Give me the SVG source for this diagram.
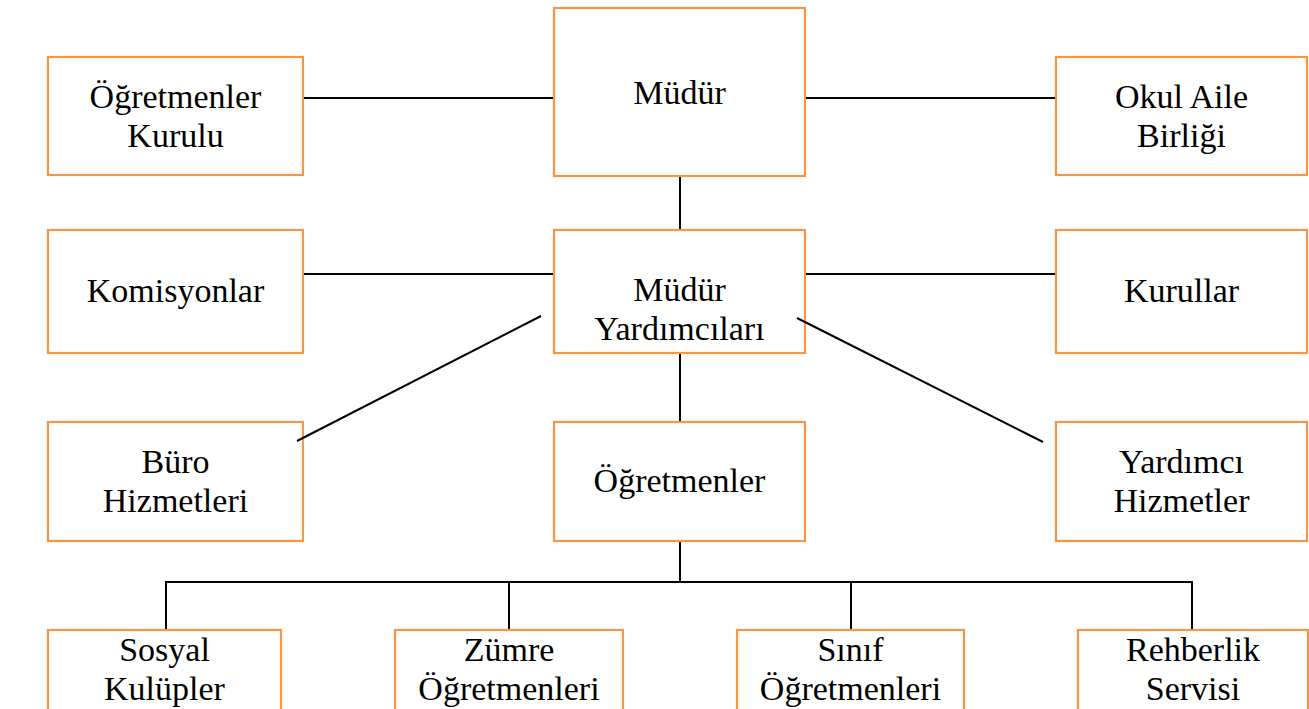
<svg xmlns="http://www.w3.org/2000/svg" width="1309" height="709" viewBox="0 0 1309 709">
<style>
.box{fill:#fff;stroke:#F79646;stroke-width:2.2}
.ln{stroke:#000;stroke-width:2;fill:none}
.t{font-family:'Liberation Serif','DejaVu Serif',serif;font-size:34px;fill:#000;text-anchor:middle}
</style>
<rect width="1309" height="709" fill="#fff"/>
<g id="ogretmenler-kurulu"><rect class="box" x="48" y="57" width="255" height="118"/><text class="t" x="175.5" y="108">Öğretmenler</text><text class="t" x="175.5" y="147">Kurulu</text></g>
<g id="mudur"><rect class="box" x="554" y="8" width="251" height="168"/><text class="t" x="679.5" y="104">Müdür</text></g>
<g id="okul-aile-birligi"><rect class="box" x="1056" y="57" width="251" height="118"/><text class="t" x="1181.5" y="108">Okul Aile</text><text class="t" x="1181.5" y="147">Birliği</text></g>
<g id="komisyonlar"><rect class="box" x="48" y="230" width="255" height="123"/><text class="t" x="175.5" y="302">Komisyonlar</text></g>
<g id="mudur-yardimcilari"><rect class="box" x="554" y="230" width="251" height="123"/><text class="t" x="679.5" y="301">Müdür</text><text class="t" x="679.5" y="340">Yardımcıları</text></g>
<g id="kurullar"><rect class="box" x="1056" y="230" width="251" height="123"/><text class="t" x="1181.5" y="302">Kurullar</text></g>
<g id="buro-hizmetleri"><rect class="box" x="48" y="422" width="255" height="119"/><text class="t" x="175.5" y="473">Büro</text><text class="t" x="175.5" y="512">Hizmetleri</text></g>
<g id="ogretmenler"><rect class="box" x="554" y="422" width="251" height="119"/><text class="t" x="679.5" y="492">Öğretmenler</text></g>
<g id="yardimci-hizmetler"><rect class="box" x="1056" y="422" width="251" height="119"/><text class="t" x="1181.5" y="473">Yardımcı</text><text class="t" x="1181.5" y="512">Hizmetler</text></g>
<g id="sosyal-kulupler"><rect class="box" x="48" y="630" width="233" height="120"/><text class="t" x="164.5" y="661">Sosyal</text><text class="t" x="164.5" y="700">Kulüpler</text></g>
<g id="zumre-ogretmenleri"><rect class="box" x="395" y="630" width="228" height="120"/><text class="t" x="509" y="661">Zümre</text><text class="t" x="509" y="700">Öğretmenleri</text></g>
<g id="sinif-ogretmenleri"><rect class="box" x="737" y="630" width="227" height="120"/><text class="t" x="850.5" y="661">Sınıf</text><text class="t" x="850.5" y="700">Öğretmenleri</text></g>
<g id="rehberlik-servisi"><rect class="box" x="1078" y="630" width="230" height="120"/><text class="t" x="1193" y="661">Rehberlik</text><text class="t" x="1193" y="700">Servisi</text></g>
<g id="connectors">
<line class="ln" x1="304" y1="98" x2="553" y2="98"/>
<line class="ln" x1="806" y1="98" x2="1055" y2="98"/>
<line class="ln" x1="680" y1="177" x2="680" y2="229"/>
<line class="ln" x1="304" y1="274" x2="553" y2="274"/>
<line class="ln" x1="806" y1="274" x2="1055" y2="274"/>
<line class="ln" x1="541" y1="316" x2="297" y2="441"/>
<line class="ln" x1="797" y1="318" x2="1043" y2="442"/>
<line class="ln" x1="680" y1="354" x2="680" y2="421"/>
<line class="ln" x1="680" y1="542" x2="680" y2="582"/>
<polyline class="ln" points="166,629 166,582 1192,582 1192,629"/>
<line class="ln" x1="509" y1="582" x2="509" y2="629"/>
<line class="ln" x1="851" y1="582" x2="851" y2="629"/>
</g>
</svg>
